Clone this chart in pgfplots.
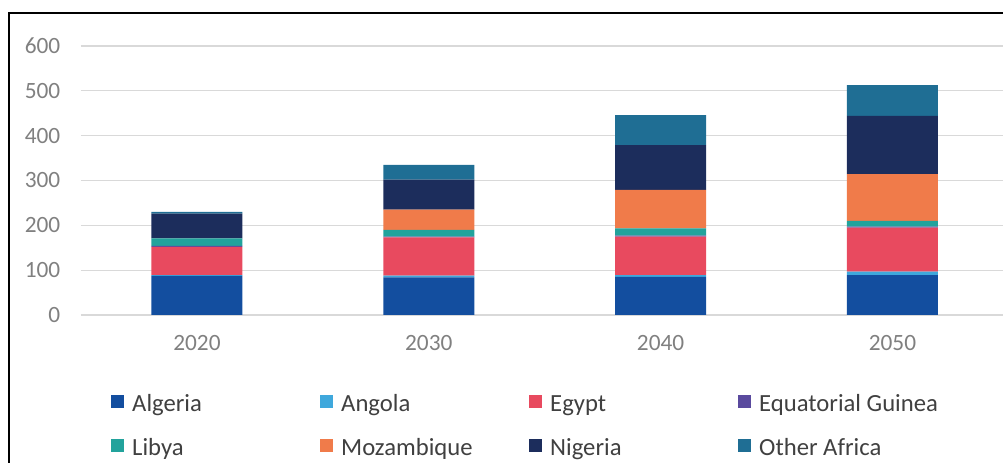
\documentclass[border=0pt]{standalone}
\usepackage{pgfplots}
\pgfplotsset{compat=1.18}
\usepackage{fontspec}
\setmainfont{Carlito}
\definecolor{cAlg}{HTML}{134E9F}
\definecolor{cAng}{HTML}{3FA8DC}
\definecolor{cEgy}{HTML}{E84A5F}
\definecolor{cEqG}{HTML}{5A4A9E}
\definecolor{cLib}{HTML}{22A39C}
\definecolor{cMoz}{HTML}{F07B4A}
\definecolor{cNig}{HTML}{1C2D5C}
\definecolor{cOth}{HTML}{1F6E94}
\definecolor{tickgray}{HTML}{808080}
\definecolor{leggray}{HTML}{404040}
\definecolor{gridgray}{HTML}{D9D9D9}
\newcommand{\legent}[1]{\makebox[147pt][l]{\strut\hspace{6pt}#1}}
\begin{document}
\begin{tikzpicture}[x=0.75pt,y=0.75pt]
\useasboundingbox (0,0) rectangle (1003,463);
\draw[line width=1.5pt] (9,-5) -- (9,450) -- (1010,450);
\begin{axis}[
  at={(60.75pt,111pt)}, anchor=south west,
  scale only axis, width=695.55pt, height=201.75pt,
  xmin=-0.5, xmax=3.5, ymin=0, ymax=600,
  ytick={0,100,...,600},
  xtick=data, xticklabels={2020,2030,2040,2050},
  ybar stacked, bar width=0.3925,
  axis line style={draw=none},
  major tick length=0pt,
  ymajorgrids, grid style={gridgray, line width=0.9pt},
  /pgf/number format/assume math mode=true,
  tick label style={font=\fontsize{17.5}{20}\selectfont, text=tickgray},
  yticklabel style={xshift=-12pt},
  xticklabel style={yshift=-12pt},
  legend columns=4,
  legend cell align=left,
  legend style={draw=none, fill=none, inner sep=0pt, column sep=0pt, row sep=14.5pt,
    at={(0.0323,-0.276)}, anchor=north west,
    nodes={inner sep=0pt, font=\fontsize{18.5}{24}\selectfont, text=leggray}},
  legend image code/.code={\fill[#1] (0pt,-4.9pt) rectangle (9.75pt,4.9pt);},
]
\addplot[fill=cAlg, draw=none] coordinates {(0,87) (1,84) (2,85) (3,89)};
\addplot[fill=cAng, draw=none] coordinates {(0,2) (1,4) (2,4) (3,8)};
\addplot[fill=cEgy, draw=none] coordinates {(0,63) (1,85) (2,86) (3,98)};
\addplot[fill=cEqG, draw=none] coordinates {(0,2) (1,2) (2,2) (3,2)};
\addplot[fill=cLib, draw=none] coordinates {(0,17) (1,15) (2,16) (3,13)};
\addplot[fill=cMoz, draw=none] coordinates {(0,0) (1,45) (2,86) (3,104)};
\addplot[fill=cNig, draw=none] coordinates {(0,55) (1,67) (2,100) (3,130)};
\addplot[fill=cOth, draw=none] coordinates {(0,4) (1,33) (2,67) (3,69)};
\legend{\legent{Algeria},\legent{Angola},\legent{Egypt},\legent{Equatorial Guinea},
  \legent{Libya},\legent{Mozambique},\legent{Nigeria},\legent{Other Africa}}
\end{axis}
\end{tikzpicture}
\end{document}
